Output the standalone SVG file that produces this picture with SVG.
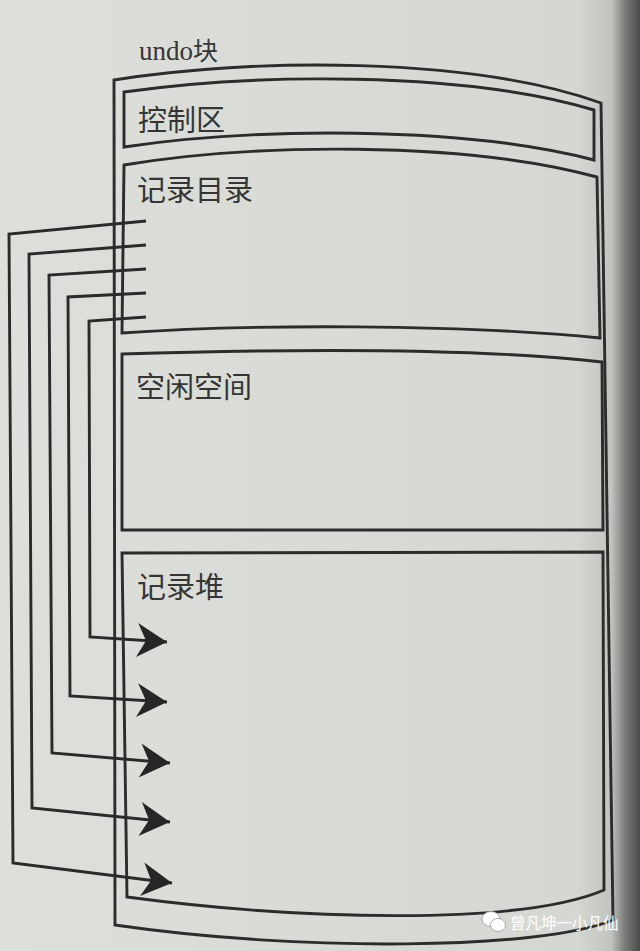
<svg xmlns="http://www.w3.org/2000/svg" width="640" height="951" viewBox="0 0 640 951">
<defs>
<linearGradient id="paper" x1="0" y1="0" x2="1" y2="0">
<stop offset="0" stop-color="#dde0da"/>
<stop offset="0.9" stop-color="#d5d8d2"/>
<stop offset="0.955" stop-color="#c1c4bf"/>
<stop offset="0.975" stop-color="#7d807c"/>
<stop offset="1" stop-color="#484a48"/>
</linearGradient>
<marker id="arrow" markerUnits="userSpaceOnUse" viewBox="-31 -18 33 36" refX="0" refY="0" markerWidth="33" markerHeight="36" orient="auto">
<path d="M0,0 L-30,-17 L-21,0 L-30,17 Z" fill="#262626"/>
</marker>
<style>
.box{fill:none;stroke:#2c2c2c;stroke-width:2.9;stroke-linejoin:miter}
.lbl{font-family:"Noto Sans CJK SC","Noto Sans",sans-serif;font-size:29px;fill:#353535}
.conn{fill:none;stroke:#2a2a2a;stroke-width:2.9;stroke-linejoin:miter}
.wm{font-family:"Noto Sans CJK SC","Noto Sans",sans-serif;font-size:15.5px;fill:#ffffff}
</style>
</defs>
<rect x="0" y="0" width="640" height="951" fill="url(#paper)"/>

<g id="undo-block">
<path class="box" d="M114,80 C250,58 470,56 601,103 L613,920 C540,950 300,952 115,925 Z"/>
<text x="139" y="60" style="font-family:'Liberation Serif',serif;font-size:27px;fill:#353535">undo<tspan style="font-family:'Noto Sans CJK SC',sans-serif;font-size:25px">块</tspan></text>
</g>

<g id="control-area">
<path class="box" d="M124,92 C250,74 460,70 594,110 L594,160 C460,125 250,128 124,147 Z"/>
<text class="lbl" x="138" y="131">控制区</text>
</g>

<g id="record-directory">
<path class="box" d="M124,165 C250,144 460,140 597,177 L600,338 C460,324 250,324 122,333 Z"/>
<text class="lbl" x="137" y="201">记录目录</text>
</g>

<g id="free-space">
<path class="box" d="M122,354 C250,350 460,346 602,362 L603,530 L122,530 Z"/>
<text class="lbl" x="136" y="398">空闲空间</text>
</g>

<g id="record-heap">
<path class="box" d="M122,553 L603,552 L604,890 C520,926 300,920 127,897 Z"/>
<text class="lbl" x="137" y="598">记录堆</text>
</g>

<g id="connectors">
<path class="conn" marker-end="url(#arrow)" d="M146,317 L89,321 L90,637 L167,642"/>
<path class="conn" marker-end="url(#arrow)" d="M146,293 L68,297 L70,696 L167,702"/>
<path class="conn" marker-end="url(#arrow)" d="M146,269 L49,275 L52,753 L170,763"/>
<path class="conn" marker-end="url(#arrow)" d="M146,245 L29,254 L32,808 L170,822"/>
<path class="conn" marker-end="url(#arrow)" d="M146,221 L9,234 L13,863 L172,883"/>
</g>

<g id="watermark">
<ellipse cx="491" cy="919" rx="9" ry="7.5" fill="#ffffff" stroke="#9a9c98" stroke-width="0.8"/>
<ellipse cx="498" cy="925" rx="7.5" ry="6.5" fill="#ffffff" stroke="#9a9c98" stroke-width="0.8"/>
<text class="wm" x="510" y="929">曾凡坤一小凡仙</text>
</g>
</svg>
